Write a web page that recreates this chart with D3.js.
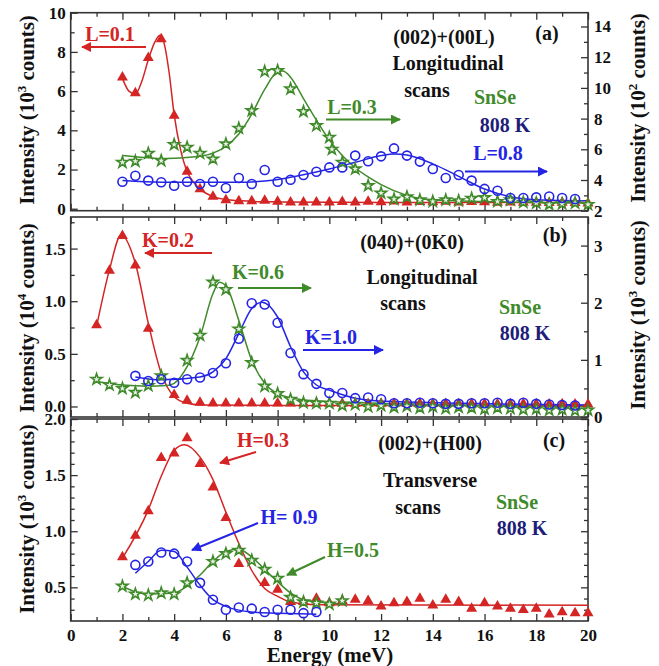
<!DOCTYPE html>
<html>
<head>
<meta charset="utf-8">
<script src="https://cdn.jsdelivr.net/npm/d3@7"></script>
<style>
  body { margin: 0; background: #fff; }
  text { font-family: "Liberation Serif", "Times New Roman", serif; font-weight: bold; }
</style>
</head>
<body>
<svg id="chart"></svg>
<script>
// ---------- data ----------
// panel (a): (002)+(00L), red on left axis (10^3), green/blue on right axis (10^2)
var aRedE = [2,2.5,3,3.5,4,4.5,5,5.5,6,6.5,7,7.5,8,8.5,9,9.5,10,10.5,11,11.5,12,12.5,13,13.5,14,14.5,15,15.5,16,16.5,17,17.5,18,18.5,19,19.5,20];
var aRedI = [6.7,5.9,7.7,8.65,4.75,1.9,1.0,0.62,0.44,0.39,0.39,0.41,0.36,0.33,0.33,0.33,0.33,0.35,0.33,0.36,0.34,0.38,0.33,0.35,0.34,0.36,0.33,0.35,0.34,0.32,0.33,0.31,0.32,0.30,0.31,0.30,0.28];
var aGreenE = [2,2.5,3,3.5,4,4.5,5,5.5,6,6.5,7,7.5,8,8.5,9,9.5,10,10.1,10.5,11,11.5,12,12.5,13,13.5,14,14.5,15,15.5,16,16.5,17,17.5,18,18.5,19,19.5,20];
var aGreenI = [5.15,5.22,5.74,5.26,6.31,6.13,5.74,5.37,6.35,7.37,8.52,11.07,11.13,9.94,8.46,7.54,6.78,6.0,5.15,4.72,3.63,3.15,2.75,2.9,2.7,2.6,2.7,2.65,2.8,2.85,2.6,2.7,2.55,2.5,2.4,2.45,2.5,2.4];
var aBlueE = [2,2.5,3,3.5,4,4.5,5,5.5,6,6.5,7,7.5,8,8.5,9,9.5,10,10.5,11,11.5,12,12.5,13,13.5,14,14.5,15,15.5,16,16.5,17,17.5,18,18.5,19,19.5];
var aBlueI = [3.89,4.28,3.96,3.85,3.63,3.89,3.74,3.89,3.48,4.13,3.74,4.65,3.89,4.02,4.33,4.54,4.82,4.82,5.59,5.22,5.54,6.06,5.59,5.2,4.72,4.13,4.33,3.96,3.42,3.3,2.83,2.83,2.87,2.93,2.83,2.76];
// fitted curves, panel (a)
var aRedFitE = [2,2.25,2.5,2.75,3,3.25,3.45,3.6,3.8,4,4.25,4.5,4.75,5,5.5,6,7,8,10,14,20];
var aRedFitI = [6.65,6.0,5.85,6.5,7.6,8.5,8.85,8.5,7.0,4.8,3.0,1.9,1.35,1.0,0.62,0.47,0.38,0.35,0.33,0.32,0.32];
var aGreenFitE = [2,3,3.5,4,5,5.5,6,6.5,7,7.5,8,8.2,8.5,9,9.5,10,10.5,11,11.5,12,13,13.5,14,16,20];
var aGreenFitI = [5.6,5.45,5.4,5.42,5.55,5.75,6.2,7.0,8.3,9.9,11.05,11.1,10.7,9.3,7.9,6.6,5.6,4.8,4.2,3.7,3.0,2.8,2.72,2.6,2.5];
var aBlueFitE = [2,3.5,6.4,7.7,8.8,10,11,12,12.5,13,14,15,16,17,18,20];
var aBlueFitI = [3.96,3.85,3.85,3.96,4.28,4.72,5.15,5.59,5.7,5.63,5.05,4.24,3.41,2.91,2.72,2.65];

// panel (b): (040)+(0K0), red on left axis (10^4), green/blue on right axis (10^3)
var bRedE = [1,1.5,2,2.5,3,4,4.5,5,5.5,6,6.5,7,7.5,8,8.5,9,9.5,10,10.5,11,11.5,12,12.5,13,13.5,14,14.5,15,15.5,16,16.5,17,17.5,18,18.5,19,19.5,20];
var bRedI = [0.774,1.29,1.62,1.34,0.74,0.11,0.055,0.036,0.03,0.03,0.03,0.03,0.03,0.03,0.03,0.03,0.03,0.028,0.028,0.028,0.025,0.028,0.025,0.025,0.028,0.025,0.025,0.022,0.025,0.025,0.022,0.022,0.025,0.022,0.02,0.022,0.02,0.02];
var bGreenE = [1,1.5,2,2.5,3,3.5,4.5,5,5.5,6,6.5,7,7.5,8,8.5,9,9.5,10,10.5,11,11.5,12,12.5,13,13.5,14,14.5,15,15.5,16,16.5,17,17.5,18,18.5,19,19.5,20];
var bGreenI = [0.66,0.56,0.5,0.43,0.55,0.72,0.99,1.43,2.36,2.23,1.54,0.95,0.54,0.41,0.31,0.25,0.24,0.24,0.2,0.22,0.18,0.2,0.17,0.19,0.16,0.18,0.15,0.17,0.16,0.14,0.16,0.15,0.13,0.14,0.12,0.13,0.11,0.12];
var bBlueE = [2.5,3,3.5,4,4.5,5,5.5,6,6.5,7,7.5,8,8.5,9,9.5,10,10.5,11,11.5,12,12.5,13,13.5,14,14.5,15,15.5,16,16.5,17,17.5,18,18.5,19,19.5];
var bBlueI = [0.72,0.63,0.66,0.6,0.66,0.69,0.77,0.94,1.37,1.99,1.97,1.65,1.12,0.75,0.58,0.42,0.42,0.33,0.34,0.31,0.24,0.24,0.25,0.24,0.23,0.23,0.24,0.24,0.25,0.23,0.25,0.23,0.22,0.21,0.2];
var bRedFitE = [1,1.5,1.95,2.5,3,3.5,4,4.5,5,8,20];
var bRedFitI = [0.76,1.3,1.63,1.36,0.79,0.315,0.093,0.03,0.015,0.01,0.01];
var bGreenFitE = [1,2,3,3.7,4,4.5,5,5.5,5.75,6,6.5,7,7.5,8,9,10,15,20];
var bGreenFitI = [0.62,0.56,0.54,0.55,0.59,0.88,1.4,2.16,2.36,2.3,1.69,0.99,0.59,0.41,0.3,0.27,0.21,0.18];
var bBlueFitE = [2.5,3.5,5,5.5,6,6.5,7,7.4,8,8.5,9,9.5,10,11,12.5,20];
var bBlueFitI = [0.7,0.65,0.7,0.79,1.02,1.46,1.9,2.01,1.75,1.23,0.79,0.56,0.47,0.33,0.27,0.21];

// panel (c): (002)+(H00), all on left axis (10^3)
var cRedE = [2,2.5,3,3.5,4,4.5,5,5.5,6,6.5,7.5,8,8.5,9,9.5,10,10.5,11,11.5,12,12.5,13,13.5,14,14.5,15,15.5,16,16.5,17,17.5,18,18.5,19,19.5,20];
var cRedI = [0.77,0.96,1.18,1.655,1.695,1.83,1.6,1.39,1.12,0.71,0.54,0.48,0.37,0.37,0.4,0.36,0.38,0.39,0.38,0.33,0.36,0.37,0.4,0.34,0.39,0.37,0.31,0.36,0.33,0.31,0.3,0.31,0.26,0.28,0.27,0.27];
var cGreenE = [2,2.5,3,3.5,4,4.5,5.5,6,6.5,7,7.5,8,8.5,9,9.5,10,10.5];
var cGreenI = [0.51,0.44,0.43,0.45,0.44,0.54,0.73,0.8,0.83,0.74,0.66,0.58,0.41,0.37,0.36,0.35,0.38];
var cBlueE = [2.5,3,3.5,4,4.5,5,5.5,6,6.5,7,7.5,8,8.5,9,9.5];
var cBlueI = [0.7,0.73,0.81,0.8,0.73,0.54,0.39,0.3,0.32,0.31,0.28,0.3,0.3,0.27,0.28];
var cRedFitE = [2,3,3.5,4,4.4,5,5.5,6,6.5,7,7.5,8,8.5,9.5,20];
var cRedFitI = [0.76,1.19,1.49,1.72,1.77,1.66,1.46,1.17,0.89,0.65,0.49,0.42,0.37,0.345,0.34];
var cGreenFitE = [2,2.5,3,4,4.5,5,5.5,6,6.5,7,7.5,8,8.5,9,10,10.5];
var cGreenFitI = [0.51,0.46,0.44,0.45,0.51,0.61,0.73,0.82,0.84,0.77,0.66,0.55,0.45,0.39,0.36,0.35];
var cBlueFitE = [2.5,3,3.5,4,4.5,5,5.5,6,7,8,9.5];
var cBlueFitI = [0.625,0.73,0.83,0.82,0.68,0.52,0.39,0.33,0.28,0.27,0.26];

var energyTicks = [0,2,4,6,8,10,12,14,16,18,20];

var RED = "#d42424", GREEN = "#3f8a2a", BLUE = "#2424e4", NAVY = "#1e1e7a", FRAME = "#333";

// ---------- setup ----------
var svg = d3.select('#chart').attr('width', 659).attr('height', 666);
svg.append('rect').attr('width', 659).attr('height', 666).attr('fill', '#fff');

var xScale = d3.scaleLinear().domain([0, 20]).range([70.7, 588]);

// arrow heads
var defs = svg.append('defs');
[["r", RED], ["g", GREEN], ["b", BLUE]].forEach(function (c) {
    defs.append('marker')
        .attr('id', 'arrow-' + c[0])
        .attr('viewBox', '0 0 10 10')
        .attr('refX', 9).attr('refY', 5)
        .attr('markerWidth', 14).attr('markerHeight', 10)
        .attr('markerUnits', 'userSpaceOnUse')
        .attr('orient', 'auto')
        .append('path')
        .attr('d', 'M0,0 L10,5 L0,10 z')
        .attr('fill', c[1]);
});

function makePanel(top, bottom, lDom, rDom) {
    var g = svg.append('g');
    var yL = d3.scaleLinear().domain(lDom).range([bottom, top]);
    var yR = d3.scaleLinear().domain(rDom).range([bottom, top]);
    return {g: g, yL: yL, yR: yR, top: top, bottom: bottom};
}

function drawAxes(p, o) {
    var g = p.g;
    // left
    g.append('g').attr('transform', 'translate(70.7,0)')
        .call(d3.axisLeft(p.yL).tickValues(o.lMajor).tickSizeInner(-7).tickSizeOuter(0).tickPadding(5).tickFormat(o.lFmt));
    g.append('g').attr('transform', 'translate(70.7,0)')
        .call(d3.axisLeft(p.yL).tickValues(o.lMinor).tickSizeInner(-4).tickSizeOuter(0).tickFormat(''));
    // right
    g.append('g').attr('transform', 'translate(588,0)')
        .call(d3.axisRight(o.rScale).tickValues(o.rMajor).tickSizeInner(-7).tickSizeOuter(0).tickPadding(6).tickFormat(o.rFmt));
    g.append('g').attr('transform', 'translate(588,0)')
        .call(d3.axisRight(o.rScale).tickValues(o.rMinor).tickSizeInner(-4).tickSizeOuter(0).tickFormat(''));
    // bottom
    g.append('g').attr('transform', `translate(0,${p.bottom})`)
        .call(d3.axisBottom(xScale).tickValues(energyTicks).tickSizeInner(-7).tickSizeOuter(0).tickPadding(8)
            .tickFormat(o.xLabels ? d3.format('d') : ''));
    g.append('g').attr('transform', `translate(0,${p.bottom})`)
        .call(d3.axisBottom(xScale).tickValues(d3.range(1, 20, 2)).tickSizeInner(-4).tickSizeOuter(0).tickFormat(''));
    // top
    g.append('g').attr('transform', `translate(0,${p.top})`)
        .call(d3.axisTop(xScale).tickValues(energyTicks).tickSizeInner(-7).tickSizeOuter(0).tickFormat(''));
    g.append('g').attr('transform', `translate(0,${p.top})`)
        .call(d3.axisTop(xScale).tickValues(d3.range(1, 20, 2)).tickSizeInner(-4).tickSizeOuter(0).tickFormat(''));

    g.selectAll('.domain').remove();
    g.selectAll('.tick line').attr('stroke', FRAME).attr('stroke-width', 1.3);
    g.selectAll('.tick text').attr('font-size', 17).attr('fill', '#111')
        .style('font-family', '"Liberation Serif", serif').style('font-weight', 'bold');

    // frame
    g.append('rect')
        .attr('x', 70.7).attr('y', p.top)
        .attr('width', 588 - 70.7).attr('height', p.bottom - p.top)
        .attr('fill', 'none').attr('stroke', FRAME).attr('stroke-width', 1.6);
}

function fitLine(p, y, E, I, color) {
    var pts = E.map(function (e, i) { return [e, I[i]]; });
    var line = d3.line()
        .x(d => xScale(d[0]))
        .y(d => y(d[1]))
        .curve(d3.curveMonotoneX);
    p.g.append('path').datum(pts)
        .attr('fill', 'none').attr('stroke', color).attr('stroke-width', 1.5)
        .attr('d', line);
}

function points(p, y, E, I, kind, color) {
    var pts = E.map(function (e, i) { return [e, I[i]]; });
    var sel = p.g.append('g').selectAll('path').data(pts).enter();
    if (kind === 'circle') {
        sel.append('circle')
            .attr('cx', d => xScale(d[0])).attr('cy', d => y(d[1]))
            .attr('r', 4.5).attr('fill', 'none').attr('stroke', color).attr('stroke-width', 1.6);
    } else if (kind === 'tri') {
        sel.append('path')
            .attr('transform', d => `translate(${xScale(d[0])},${y(d[1])})`)
            .attr('d', d3.symbol(d3.symbolTriangle, 52))
            .attr('fill', color);
    } else {
        sel.append('path')
            .attr('transform', d => `translate(${xScale(d[0])},${y(d[1])})`)
            .attr('d', d3.symbol(d3.symbolStar, 38))
            .attr('fill', '#e9f1e4').attr('stroke', color).attr('stroke-width', 1.6);
    }
}

function label(x, y, txt, color, size) {
    svg.append('text')
        .attr('x', x).attr('y', y).attr('dy', '0.35em')
        .attr('text-anchor', 'middle')
        .attr('font-size', size || 20)
        .attr('fill', color || '#111')
        .text(txt);
}

function arrow(x1, y1, x2, y2, color, id) {
    svg.append('line')
        .attr('x1', x1).attr('y1', y1).attr('x2', x2).attr('y2', y2)
        .attr('stroke', color).attr('stroke-width', 2)
        .attr('marker-end', `url(#arrow-${id})`);
}

function yTitle(x, y, power) {
    var t = svg.append('text')
        .attr('transform', `translate(${x},${y}) rotate(-90)`)
        .attr('text-anchor', 'middle')
        .attr('dy', '0.35em')
        .attr('font-size', 21)
        .attr('fill', '#111');
    t.append('tspan').text('Intensity (10');
    t.append('tspan').attr('dy', -8).attr('font-size', 13).text(power);
    t.append('tspan').attr('dy', 8).text(' counts)');
}

// ---------- panel (a) ----------
var pa = makePanel(12.7, 210.7, [-0.1, 10], [2, 14.9]);
drawAxes(pa, {
    lMajor: [0, 2, 4, 6, 8, 10], lMinor: [1, 3, 5, 7, 9], lFmt: d3.format('d'),
    rScale: pa.yR, rMajor: [2, 4, 6, 8, 10, 12, 14], rMinor: [3, 5, 7, 9, 11, 13], rFmt: d3.format('d'),
    xLabels: false
});
fitLine(pa, pa.yL, aRedFitE, aRedFitI, RED);
fitLine(pa, pa.yR, aGreenFitE, aGreenFitI, GREEN);
fitLine(pa, pa.yR, aBlueFitE, aBlueFitI, BLUE);
points(pa, pa.yL, aRedE, aRedI, 'tri', RED);
points(pa, pa.yR, aGreenE, aGreenI, 'star', GREEN);
points(pa, pa.yR, aBlueE, aBlueI, 'circle', BLUE);

// ---------- panel (b) ----------
var pb = makePanel(217, 417, [-0.1, 1.8], [0, 3.5]);
drawAxes(pb, {
    lMajor: [0, 0.5, 1, 1.5], lMinor: [0.25, 0.75, 1.25, 1.75], lFmt: d3.format('.1f'),
    rScale: pb.yR, rMajor: [0, 1, 2, 3], rMinor: [0.5, 1.5, 2.5], rFmt: d3.format('d'),
    xLabels: false
});
fitLine(pb, pb.yL, bRedFitE, bRedFitI, RED);
fitLine(pb, pb.yR, bGreenFitE, bGreenFitI, GREEN);
fitLine(pb, pb.yR, bBlueFitE, bBlueFitI, BLUE);
points(pb, pb.yL, bRedE, bRedI, 'tri', RED);
points(pb, pb.yR, bGreenE, bGreenI, 'star', GREEN);
points(pb, pb.yR, bBlueE, bBlueI, 'circle', BLUE);

// ---------- panel (c) ----------
var pc = makePanel(419, 621, [0.2, 2.0], [0.2, 2.0]);
var cMinor = [0.3, 0.4, 0.6, 0.7, 0.8, 0.9, 1.1, 1.2, 1.3, 1.4, 1.6, 1.7, 1.8, 1.9];
drawAxes(pc, {
    lMajor: [0.5, 1, 1.5, 2], lMinor: cMinor, lFmt: d3.format('.1f'),
    rScale: pc.yR, rMajor: [0.5, 1, 1.5, 2], rMinor: cMinor, rFmt: '',
    xLabels: true
});
fitLine(pc, pc.yL, cRedFitE, cRedFitI, RED);
fitLine(pc, pc.yL, cGreenFitE, cGreenFitI, GREEN);
fitLine(pc, pc.yL, cBlueFitE, cBlueFitI, BLUE);
points(pc, pc.yL, cRedE, cRedI, 'tri', RED);
points(pc, pc.yL, cGreenE, cGreenI, 'star', GREEN);
points(pc, pc.yL, cBlueE, cBlueI, 'circle', BLUE);

// ---------- titles ----------
yTitle(27, 110, '3');
yTitle(638, 108, '2');
yTitle(27, 318, '4');
yTitle(638, 315, '3');
yTitle(27, 519, '3');
svg.append('text')
    .attr('x', 330).attr('y', 655).attr('dy', '0.35em')
    .attr('text-anchor', 'middle').attr('font-size', 21).attr('fill', '#111')
    .text('Energy (meV)');

// ---------- annotations ----------
// (a)
label(110, 34, 'L=0.1', RED);
arrow(146, 47, 82, 47, RED, 'r');
label(444, 37, '(002)+(00L)');
label(547, 33, '(a)');
label(448, 63, 'Longitudinal');
label(427, 90, 'scans');
label(352, 107, 'L=0.3', GREEN);
arrow(326, 119.5, 400, 119.5, GREEN, 'g');
label(495, 97, 'SnSe', GREEN);
label(505, 125, '808 K', NAVY);
label(498, 153, 'L=0.8', BLUE);
arrow(465, 171.5, 547, 171.5, BLUE, 'b');
// (b)
label(168, 240, 'K=0.2', RED);
arrow(212, 253, 145, 253, RED, 'r');
label(258, 272, 'K=0.6', GREEN);
arrow(238, 288, 311, 288, GREEN, 'g');
label(331, 337, 'K=1.0', BLUE);
arrow(303, 350, 383, 350, BLUE, 'b');
label(412, 242, '(040)+(0K0)');
label(555, 235, '(b)');
label(422, 277, 'Longitudinal');
label(403, 303, 'scans');
label(520, 307, 'SnSe', GREEN);
label(525, 333, '808 K', NAVY);
// (c)
label(263, 440, 'H=0.3', RED);
arrow(256, 452, 220, 463, RED, 'r');
label(289, 517, 'H= 0.9', BLUE);
arrow(258, 523, 192, 550, BLUE, 'b');
label(353, 550, 'H=0.5', GREEN);
arrow(325, 557, 287, 575, GREEN, 'g');
label(430, 443, '(002)+(H00)');
label(554, 440, '(c)');
label(430, 480, 'Transverse');
label(418, 507, 'scans');
label(517, 502, 'SnSe', GREEN);
label(522, 528, '808 K', NAVY);
</script>
</body>
</html>
